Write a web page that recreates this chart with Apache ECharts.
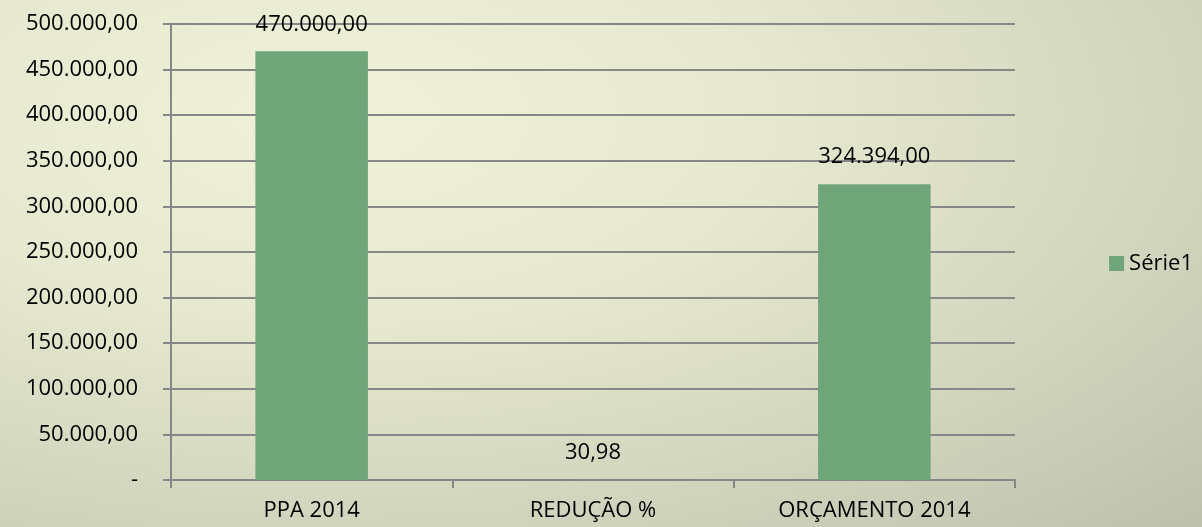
<!DOCTYPE html>
<html>
<head>
<meta charset="utf-8">
<script src="https://cdn.jsdelivr.net/npm/echarts@6/dist/echarts.min.js"></script>
<style>
  html, body { margin: 0; padding: 0; }
  body {
    background: radial-gradient(ellipse at 28% 22%, #eff1d8 0%, #e6e9cf 35%, #d2d5bd 70%, #bdc0ac 100%);
  }
  #chart { width: 1202px; height: 527px; }
</style>
</head>
<body>
<div id="chart"></div>
<script>
const categories = ['PPA 2014', 'REDUÇÃO %', 'ORÇAMENTO 2014']
const values = [470000, 30.98, 324394]
const seriesName = 'Série1'

// pt-BR number, 2 decimals; zero shown as "-"
function fmt(v) {
  if (v === 0) return '-'
  return v.toLocaleString('pt-BR', { minimumFractionDigits: 2, maximumFractionDigits: 2 })
}

const FONT = 'Open Sans'
const SIZE = 22
const GRAY = '#878787'
const chart = echarts.init(document.getElementById('chart'), null, { renderer: 'canvas' })

chart.setOption({
  backgroundColor: 'transparent',
  textStyle: { fontFamily: FONT },
  legend: {
    right: 4,
    top: 'middle',
    orient: 'vertical',
    icon: 'rect',
    itemWidth: 15,
    itemHeight: 15,
    itemGap: 6,
    textStyle: { color: '#000', fontSize: SIZE, fontFamily: FONT },
    data: [seriesName],
  },
  grid: { left: 171, right: 187, top: 24, bottom: 47 },
  xAxis: {
    type: 'category',
    data: categories,
    axisLine: { lineStyle: { color: GRAY, width: 2 } },
    axisTick: { show: true, length: 8, lineStyle: { color: GRAY, width: 2 } },
    axisLabel: { color: '#000', fontSize: SIZE, margin: 20, fontFamily: FONT },
  },
  yAxis: {
    type: 'value',
    min: 0,
    max: 500000,
    interval: 50000,
    axisLine: { show: true, lineStyle: { color: GRAY, width: 2 } },
    axisTick: { show: true, length: 8, lineStyle: { color: GRAY, width: 2 } },
    axisLabel: { color: '#000', fontSize: SIZE, margin: 33, fontFamily: FONT, formatter: fmt },
    splitLine: { lineStyle: { color: GRAY, width: 2 } },
  },
  series: [
    {
      name: seriesName,
      type: 'bar',
      data: values,
      barWidth: '40%',
      itemStyle: { color: '#70a57a' },
      label: {
        show: true,
        position: 'top',
        distance: 16,
        color: '#000',
        fontSize: SIZE,
        fontFamily: FONT,
        formatter: (p) => fmt(p.value),
      },
    },
  ],
})
</script>
</body>
</html>
